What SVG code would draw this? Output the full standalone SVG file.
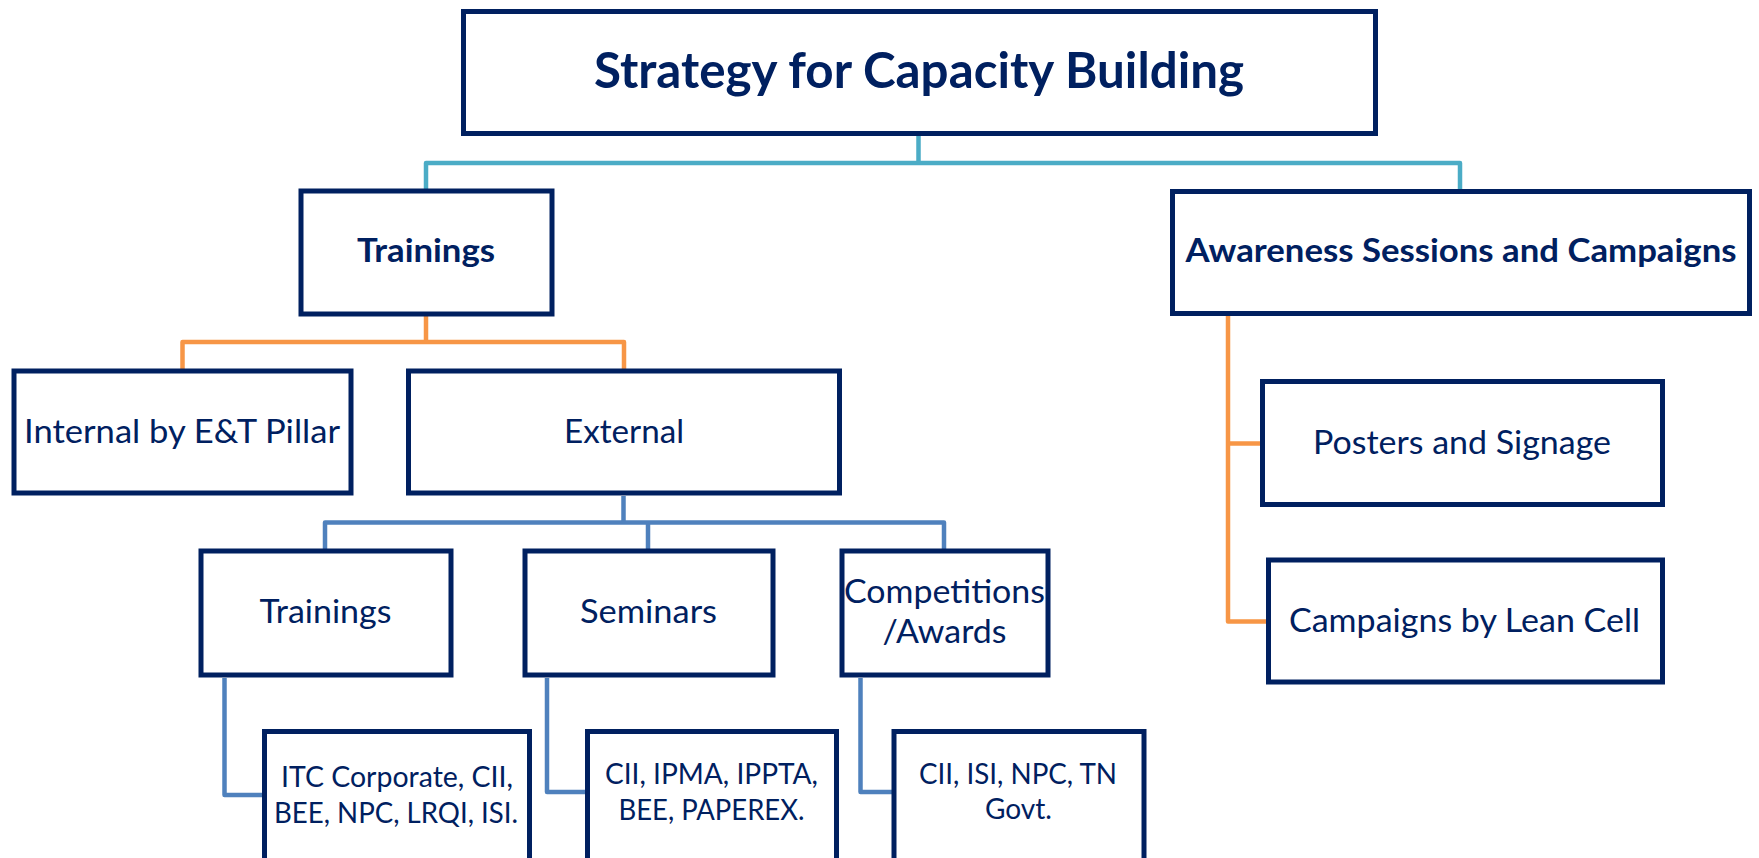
<svg xmlns="http://www.w3.org/2000/svg" width="1759" height="858" viewBox="0 0 1759 858">
<style>
.box{fill:#fff;stroke:#002060;stroke-width:5}
.t{font-family:Lato,"Liberation Sans",sans-serif;fill:#002060;text-anchor:middle}
.b{font-weight:bold}
.c{fill:none;stroke-width:4.5;stroke-linejoin:round}
.teal{stroke:#4BACC6}.orange{stroke:#F79646}.blue{stroke:#4F81BD}
</style>
<rect width="1759" height="858" fill="#fff"/>
<g id="connectors">
<path class="c teal" d="M918.5 136V163M426 189V163H1460V189"/>
<path class="c orange" d="M426 316V342M182.5 369V342H624V369"/>
<path class="c orange" d="M1228 316V621.5H1266M1228 443.5H1260"/>
<path class="c blue" d="M623.5 496V522.5M325 549V522.5H944V549M648 522.5V549"/>
<path class="c blue" d="M224.5 678V795H262M547 678V792H585M860.5 678V792H892"/>
</g>
<g id="root"><rect class="box" x="463.5" y="11.5" width="912" height="122"/>
<text class="t b" x="919" y="88" font-size="49" textLength="650" lengthAdjust="spacingAndGlyphs">Strategy for Capacity Building</text></g>
<g id="trainings"><rect class="box" x="301" y="191" width="251" height="123"/>
<text class="t b" x="426" y="262" font-size="32" textLength="138" lengthAdjust="spacingAndGlyphs">Trainings</text></g>
<g id="awareness"><rect class="box" x="1172.5" y="191.5" width="577" height="122"/>
<text class="t b" x="1461" y="262" font-size="32" textLength="551" lengthAdjust="spacingAndGlyphs">Awareness Sessions and Campaigns</text></g>
<g id="internal"><rect class="box" x="14" y="371" width="337" height="122"/>
<text class="t" x="182" y="442.5" font-size="32" textLength="316" lengthAdjust="spacingAndGlyphs">Internal by E&amp;T Pillar</text></g>
<g id="external"><rect class="box" x="408.5" y="371" width="431" height="122"/>
<text class="t" x="624" y="442.5" font-size="32" textLength="120" lengthAdjust="spacingAndGlyphs">External</text></g>
<g id="ext-trainings"><rect class="box" x="201" y="551" width="250" height="124"/>
<text class="t" x="325.5" y="622.5" font-size="32" textLength="132" lengthAdjust="spacingAndGlyphs">Trainings</text></g>
<g id="seminars"><rect class="box" x="525" y="551" width="248" height="124"/>
<text class="t" x="648.5" y="622.5" font-size="32" textLength="137" lengthAdjust="spacingAndGlyphs">Seminars</text></g>
<g id="competitions"><rect class="box" x="842" y="551" width="206" height="124"/>
<text class="t" x="944.5" y="602.5" font-size="32" textLength="201" lengthAdjust="spacingAndGlyphs">Competitions</text>
<text class="t" x="944.5" y="643" font-size="32" textLength="124" lengthAdjust="spacingAndGlyphs">/Awards</text></g>
<g id="itc"><rect class="box" x="264.5" y="731.5" width="265" height="160"/>
<text class="t" x="397" y="787" font-size="29" textLength="232" lengthAdjust="spacingAndGlyphs">ITC Corporate, CII,</text>
<text class="t" x="396" y="822.5" font-size="29" textLength="244" lengthAdjust="spacingAndGlyphs">BEE, NPC, LRQI, ISI.</text></g>
<g id="seminar-orgs"><rect class="box" x="587.5" y="731.5" width="249" height="160"/>
<text class="t" x="711.5" y="784" font-size="29" textLength="213" lengthAdjust="spacingAndGlyphs">CII, IPMA, IPPTA,</text>
<text class="t" x="711.5" y="819.5" font-size="29" textLength="186" lengthAdjust="spacingAndGlyphs">BEE, PAPEREX.</text></g>
<g id="competition-orgs"><rect class="box" x="894" y="731.5" width="250" height="160"/>
<text class="t" x="1018" y="783.5" font-size="29" textLength="198" lengthAdjust="spacingAndGlyphs">CII, ISI, NPC, TN</text>
<text class="t" x="1018.5" y="819" font-size="29" textLength="67" lengthAdjust="spacingAndGlyphs">Govt.</text></g>
<g id="posters"><rect class="box" x="1262.5" y="381.5" width="400" height="123"/>
<text class="t" x="1462" y="454" font-size="32" textLength="298" lengthAdjust="spacingAndGlyphs">Posters and Signage</text></g>
<g id="campaigns"><rect class="box" x="1268.5" y="560" width="394" height="122"/>
<text class="t" x="1464.5" y="631.5" font-size="32" textLength="351" lengthAdjust="spacingAndGlyphs">Campaigns by Lean Cell</text></g>
</svg>
